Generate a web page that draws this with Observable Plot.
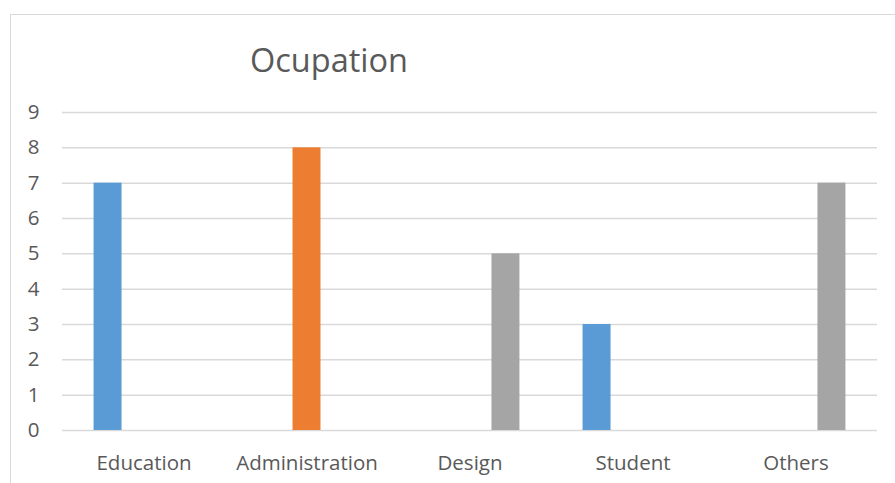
<!DOCTYPE html>
<html>
<head>
<meta charset="utf-8">
<script src="https://cdn.jsdelivr.net/npm/d3@7"></script>
<script src="https://cdn.jsdelivr.net/npm/@observablehq/plot@0.6"></script>
<style>
html,body{margin:0;padding:0;background:#fff;overflow:hidden;width:895px;height:483px;font-family:"Open Sans",sans-serif}
#frame{position:absolute;left:10px;top:14px;width:900px;height:500px;border:1.5px solid #d9d9d9;box-sizing:border-box}
#title{position:absolute;left:250px;top:38px;font-size:32.5px;line-height:44px;color:#595959;white-space:nowrap}
#chart{position:absolute;left:0;top:85px}
</style>
</head>
<body>
<div id="frame"></div>
<div id="title">Ocupation</div>
<div id="chart"></div>
<script>
const categories = ["Education", "Administration", "Design", "Student", "Others"];
const seriesNames = ["Series1", "Series2", "Series3"];
const series1 = [7, 0, 0, 3, 0];
const series2 = [0, 8, 0, 0, 0];
const series3 = [0, 0, 5, 0, 7];
const seriesColors = ["#5B9BD5", "#ED7D31", "#A5A5A5"];
const yTicks = [0, 1, 2, 3, 4, 5, 6, 7, 8, 9];

const seriesValues = [series1, series2, series3];
const rows = [];
categories.forEach((c, i) => {
  seriesNames.forEach((s, j) => {
    rows.push({category: c, series: s, value: seriesValues[j][i]});
  });
});

const chart = Plot.plot({
  width: 895,
  height: 398,
  marginLeft: 62,
  marginRight: 18,
  marginTop: 27,
  marginBottom: 53,
  style: {fontFamily: "Open Sans", fontSize: "20.5px", color: "#595959", background: "transparent"},
  fx: {domain: categories, padding: 0, round: false, label: null, axis: "bottom", tickSize: 0, tickPadding: 25},
  x: {domain: seriesNames, paddingInner: 0.222, paddingOuter: 0.878, round: false, axis: null},
  y: {domain: [0, 9], ticks: yTicks, tickSize: 0, tickPadding: 23, label: null, tickFormat: d3.format("d")},
  color: {domain: seriesNames, range: seriesColors},
  marks: [
    Plot.ruleY(yTicks, {stroke: "#d9d9d9", strokeWidth: 1.5}),
    Plot.barY(rows, {fx: "category", x: "series", y: "value", fill: "series"})
  ]
});
document.getElementById("chart").appendChild(chart);
</script>
</body>
</html>
